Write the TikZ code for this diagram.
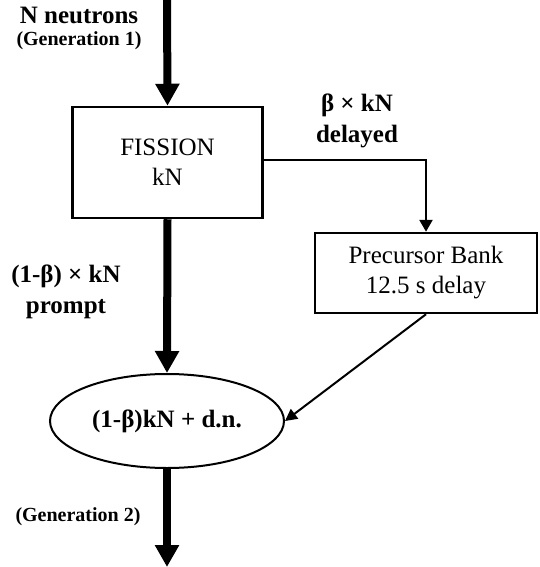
\documentclass[tikz,border=0pt]{standalone}
\usepackage{fontspec}
\setmainfont{Liberation Serif}
\usepackage{tikz}
\usetikzlibrary{shapes.geometric,positioning,arrows.meta}

\tikzset{
  boxtext/.style={font=\fontsize{25}{30}\selectfont, align=center},
  lbl/.style={font=\bfseries\fontsize{25}{31}\selectfont, align=center, inner sep=0pt},
  genlbl/.style={font=\bfseries\fontsize{20}{24}\selectfont, inner sep=0pt},
  flow/.style={line width=8pt, -{Triangle[width=23pt,length=22pt]}},
  thin/.style={line width=2.5pt, -{Triangle[width=13pt,length=12pt]}}
}

\begin{document}
\begin{tikzpicture}[x=1pt,y=-1pt]
   \useasboundingbox (0,0) rectangle (539,567);
   % boxes
   \node[draw, line width=2.5pt, boxtext, minimum width=190pt, minimum height=111pt] (fission) at (167.5,162.5) {FISSION\\kN};
   \node[draw, line width=2.5pt, boxtext, minimum width=222pt, minimum height=80pt] (bank) at (426,273) {Precursor Bank\\12.5 s delay};
   \node[draw, ellipse, line width=2pt, minimum width=234pt, minimum height=94pt, inner sep=0pt,
         font=\bfseries\fontsize{25}{30}\selectfont] (next) at (167,421) {(1-β)kN + d.n.};
   \coordinate (in) at (167,0);
   \coordinate (out) at (167,567);
   \coordinate (turn) at (bank.north |- 0,160);
   % labels
   \node[lbl, anchor=base] (nneut) at (79,24) {N neutrons};
   \node[genlbl, anchor=base] (gen1) at (79,46) {(Generation 1)};
   \node[lbl] (delayed) at (357,121) {β × kN\\delayed};
   \node[lbl] (prompt) at (66,292) {(1-β) × kN\\prompt};
   \node[genlbl] (gen2) at (78,517) {(Generation 2)};
   % arrows
   \draw[flow] (in) -- (fission.north);
   \draw[flow] (fission.south) -- (next.north);
   \draw[flow] (next.south) -- (out);
   \draw[thin] (fission.east |- turn) -- (turn) -- (bank.north);
   \draw[line width=2pt, -{Triangle[width=12pt,length=12pt]}] (bank.south) -- (next.east);
\end{tikzpicture}
\end{document}
